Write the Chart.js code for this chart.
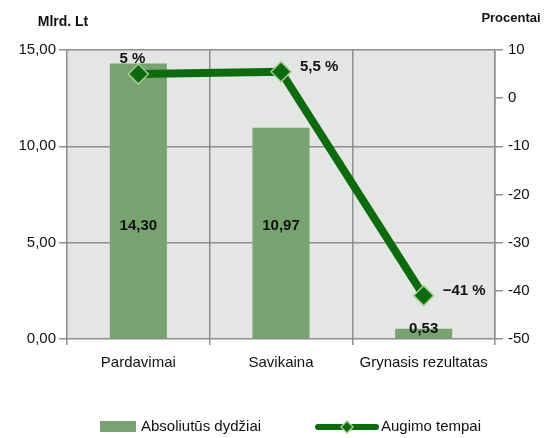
<!DOCTYPE html>
<html>
<head>
<meta charset="utf-8">
<script src="https://cdn.jsdelivr.net/npm/chart.js@4"></script>
<style>
  html, body { margin: 0; padding: 0; background: #fff; }
  #wrap { width: 544px; height: 438px; }
</style>
</head>
<body>
<div id="wrap"><canvas id="chart"></canvas></div>
<script>
const categories = ["Pardavimai", "Savikaina", "Grynasis rezultatas"];
const absValues = [14.30, 10.97, 0.53];
const growthValues = [5, 5.5, -41];
const growthLabels = ["5 %", "5,5 %", "\u221241 %"];
const barName = "Absoliutūs dydžiai";
const lineName = "Augimo tempai";

const barColor = "rgb(120,163,112)";
const lineColor = "rgb(14,106,14)";
const gridColor = "#8e8e8e";
const font = "'Liberation Sans', Arial, sans-serif";

const fmt = (v, d) => v.toFixed(d).replace(".", ",");

// plot background
const bgPlugin = {
  id: "bg",
  beforeDraw(chart) {
    const { ctx, chartArea: a } = chart;
    ctx.save();
    ctx.fillStyle = "rgb(227,230,226)";
    ctx.fillRect(a.left, a.top, a.right - a.left, a.bottom - a.top);
    ctx.restore();
  }
};

// value labels + axis titles + legend
const labelPlugin = {
  id: "labels",
  afterDatasetsDraw(chart) {
    const ctx = chart.ctx;
    ctx.save();
    ctx.fillStyle = "#111";
    ctx.font = "bold 15px " + font;
    ctx.textBaseline = "middle";
    ctx.textAlign = "center";
    chart.getDatasetMeta(0).data.forEach((bar, i) => {
      // tall bars: label at fixed distance from base, short bars: just above base
      const y = bar.base - bar.y > 120 ? bar.base - 112 : bar.base - 9;
      ctx.fillText(fmt(absValues[i], 2), bar.x, y);
    });
    chart.getDatasetMeta(1).data.forEach((pt, i) => {
      if (i === 0) {
        ctx.textAlign = "center";
        ctx.fillText(growthLabels[i], pt.x - 6, pt.y - 15);
      } else {
        ctx.textAlign = "left";
        ctx.fillText(growthLabels[i], pt.x + 19, pt.y - 5);
      }
    });
    ctx.restore();
  },
  afterDraw(chart) {
    const ctx = chart.ctx;
    ctx.save();
    ctx.fillStyle = "#111";
    ctx.font = "bold 14px " + font;
    ctx.textBaseline = "middle";
    ctx.textAlign = "center";
    ctx.fillText("Mlrd. Lt", 63, 22);
    ctx.font = "bold 13px " + font;
    ctx.fillText("Procentai", 511, 18);

    // legend
    ctx.fillStyle = barColor;
    ctx.fillRect(100, 421, 36, 11);
    ctx.fillStyle = "#111";
    ctx.font = "15px " + font;
    ctx.textAlign = "left";
    ctx.fillText(barName, 141, 427);

    ctx.strokeStyle = lineColor;
    ctx.lineWidth = 6;
    ctx.lineCap = "round";
    ctx.beginPath();
    ctx.moveTo(318, 427);
    ctx.lineTo(376, 427);
    ctx.stroke();
    ctx.fillStyle = lineColor;
    ctx.strokeStyle = "rgb(160,205,145)";
    ctx.lineWidth = 1.5;
    ctx.beginPath();
    ctx.moveTo(347, 421);
    ctx.lineTo(353, 427);
    ctx.lineTo(347, 433);
    ctx.lineTo(341, 427);
    ctx.closePath();
    ctx.fill();
    ctx.stroke();
    ctx.fillStyle = "#111";
    ctx.fillText(lineName, 381, 427);
    ctx.restore();
  }
};

new Chart(document.getElementById("chart"), {
  data: {
    labels: categories,
    datasets: [
      {
        type: "bar",
        label: barName,
        data: absValues,
        backgroundColor: barColor,
        barPercentage: 0.4,
        categoryPercentage: 1,
        yAxisID: "y",
        order: 2
      },
      {
        type: "line",
        label: lineName,
        data: growthValues,
        borderColor: lineColor,
        borderWidth: 8,
        pointStyle: "rectRot",
        pointRadius: 10,
        pointHoverRadius: 10,
        pointBackgroundColor: lineColor,
        pointBorderColor: "rgb(160,205,145)",
        pointBorderWidth: 1.5,
        tension: 0,
        yAxisID: "y1",
        order: 1
      }
    ]
  },
  options: {
    responsive: true,
    maintainAspectRatio: false,
    animation: false,
    layout: { padding: { top: 50, bottom: 62, left: 0, right: 0 } },
    plugins: { legend: { display: false }, tooltip: { enabled: false } },
    scales: {
      x: {
        afterFit: (s) => { s.height = 37; },
        grid: { color: gridColor, lineWidth: 1.5, tickLength: 6, offset: true },
        border: { display: false },
        ticks: { color: "#111", font: { family: font, size: 15 }, padding: 9, maxRotation: 0 }
      },
      y: {
        position: "left",
        min: 0,
        max: 15,
        afterFit: (s) => { s.width = 67; },
        grid: { color: gridColor, lineWidth: 1.5, tickLength: 8 },
        border: { display: false },
        ticks: {
          stepSize: 5,
          color: "#111",
          padding: 3,
          font: { family: font, size: 15 },
          callback: (v) => fmt(v, 2)
        }
      },
      y1: {
        position: "right",
        min: -50,
        max: 10,
        afterFit: (s) => { s.width = 49; },
        grid: { drawOnChartArea: false, color: gridColor, lineWidth: 1.5, tickLength: 8 },
        border: { display: true, color: gridColor, width: 1.5 },
        ticks: {
          stepSize: 10,
          color: "#111",
          padding: 5,
          font: { family: font, size: 15 }
        }
      }
    }
  },
  plugins: [bgPlugin, labelPlugin]
});
</script>
</body>
</html>
